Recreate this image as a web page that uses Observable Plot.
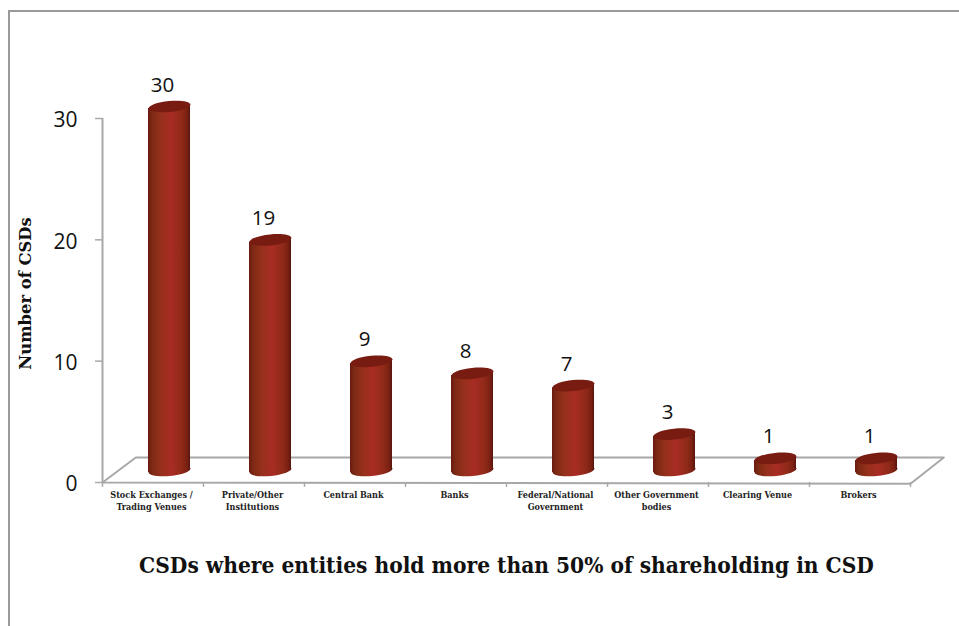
<!DOCTYPE html>
<html>
<head>
<meta charset="utf-8">
<script src="https://cdn.jsdelivr.net/npm/d3@7"></script>
<script src="https://cdn.jsdelivr.net/npm/@observablehq/plot@0.6"></script>
<style>
html,body{margin:0;padding:0;background:#fff;overflow:hidden}
#frame{position:absolute;left:8px;top:10px;right:0;bottom:0;border-left:2px solid #9a9a9a;border-top:2px solid #9a9a9a;pointer-events:none}
#chart{position:absolute;left:0;top:0}
svg{background:transparent}
</style>
</head>
<body>
<div id="frame"></div>
<div id="chart"></div>
<script>
const categories = ["Stock Exchanges /\nTrading Venues","Private/Other\nInstitutions","Central Bank","Banks","Federal/National\nGovernment","Other Government\nbodies","Clearing Venue","Brokers"];
const values = [30,19,9,8,7,3,1,1];
const positions = [0,1,2,3,4,5,6,7];
const yTicks = [0,10,20,30];
const floorX = [0,0.33,8.33,8,0];
const floorY = [0,2.06,2.06,-0.1,0];
const categoryTicks = [0,1,2,3,4,5,6,7,8];
const yLabel = ["Number of CSDs"];
const chartTitle = ["CSDs where entities hold more than 50% of shareholding in CSD"];

const rows = positions.map(i => ({i, cat: categories[i], v: values[i]}));
const serif = "'DejaVu Serif Condensed', 'DejaVu Serif', serif";
const sans = "'Open Sans', sans-serif";

const halfWidth = 0.208, lean = 0.173;
const sides = rows.flatMap(d => [
  {i: d.i, x: d.i + 0.5 - halfWidth, y1: -lean, y2: d.v - lean},
  {i: d.i, x: d.i + 0.5 + halfWidth, y1: lean, y2: d.v + lean}
]);

function ellipseSymbol(rx, ry, tilt) {
  const k = 0.5523, c = Math.cos(tilt), s = Math.sin(tilt);
  const p = (x, y) => [x * c - y * s, x * s + y * c];
  return {draw(ctx) {
    ctx.moveTo(...p(rx, 0));
    ctx.bezierCurveTo(...p(rx, k * ry), ...p(k * rx, ry), ...p(0, ry));
    ctx.bezierCurveTo(...p(-k * rx, ry), ...p(-rx, k * ry), ...p(-rx, 0));
    ctx.bezierCurveTo(...p(-rx, -k * ry), ...p(-k * rx, -ry), ...p(0, -ry));
    ctx.bezierCurveTo(...p(k * rx, -ry), ...p(rx, -k * ry), ...p(rx, 0));
    ctx.closePath();
  }};
}
const gradient = () => {
  const ns = "http://www.w3.org/2000/svg";
  const defs = document.createElementNS(ns, "defs");
  const g = document.createElementNS(ns, "linearGradient");
  g.setAttribute("id", "cyl");
  [[0,"#6a1a10"],[0.1,"#7d2a14"],[0.3,"#96301c"],[0.55,"#a82c24"],[0.8,"#8f2a18"],[0.93,"#7a2012"],[1,"#561510"]].forEach(([o,c]) => {
    const st = document.createElementNS(ns, "stop");
    st.setAttribute("offset", o);
    st.setAttribute("stop-color", c);
    g.appendChild(st);
  });
  defs.appendChild(g);
  return defs;
};
const off = {dx: 16.5, dy: -12};
const cap = ellipseSymbol(21, 5.5, -0.1);

const plot = Plot.plot({
  width: 959, height: 626,
  marginLeft: 102, marginRight: 49, marginTop: 118, marginBottom: 144,
  style: {background: "transparent", overflow: "visible"},
  x: {type: "linear", domain: [0, 8], axis: null},
  y: {domain: [0, 30], axis: null},
  marks: [
    gradient,
    Plot.line(floorX.map((x, j) => ({x, y: floorY[j]})), {x: "x", y: "y", stroke: "#a8a8a8", strokeWidth: 2, curve: "linear"}),
    Plot.ruleX(categoryTicks, {y1: 0, y2: -0.4, stroke: "#a8a8a8", strokeWidth: 1.5}),
    Plot.ruleX([0], {y1: 0, y2: 30, stroke: "#a8a8a8", strokeWidth: 2}),
    Plot.axisY({ticks: yTicks, tickSize: 7, text: null, stroke: "#a8a8a8", strokeWidth: 1.5, label: null}),
    Plot.axisY({ticks: yTicks, tickSize: 0, tickPadding: 25, dy: 2, fill: "#111", fontSize: 21, fontFamily: sans, label: null, tickFormat: d => String(d)}),
    Plot.dot(rows, {x: d => d.i + 0.5, y: 0, symbol: cap, fill: "url(#cyl)", stroke: "none", ...off}),
    Plot.areaY(sides, {x: "x", y1: "y1", y2: "y2", z: "i", fill: "url(#cyl)", ...off}),
    Plot.dot(rows, {x: d => d.i + 0.5, y: "v", symbol: cap, fill: "#781c12", stroke: "none", ...off}),
    Plot.text(rows, {x: d => d.i + 0.5, y: "v", text: d => String(d.v), dx: 9.5, dy: -33.5, fontSize: 20.5, fontFamily: sans, fill: "#111"}),
    Plot.text(rows, {x: d => d.i + 0.5, y: 0, text: "cat", dx: -1.5, dy: 7, lineAnchor: "top", lineHeight: 1.3, fontSize: 9, fontFamily: serif, fontWeight: "bold", fill: "#222"}),
    Plot.text(yLabel, {frameAnchor: "left", textAnchor: "middle", dx: -77, dy: -7, rotate: -90, fontSize: 16.4, fontFamily: "'DejaVu Serif', serif", fontWeight: "bold", fill: "#111"}),
    Plot.text(chartTitle, {frameAnchor: "bottom", dy: 90, fontSize: 22.5, fontFamily: serif, fontWeight: "bold", fill: "#111"})
  ]
});
document.getElementById("chart").appendChild(plot);
</script>
</body>
</html>
